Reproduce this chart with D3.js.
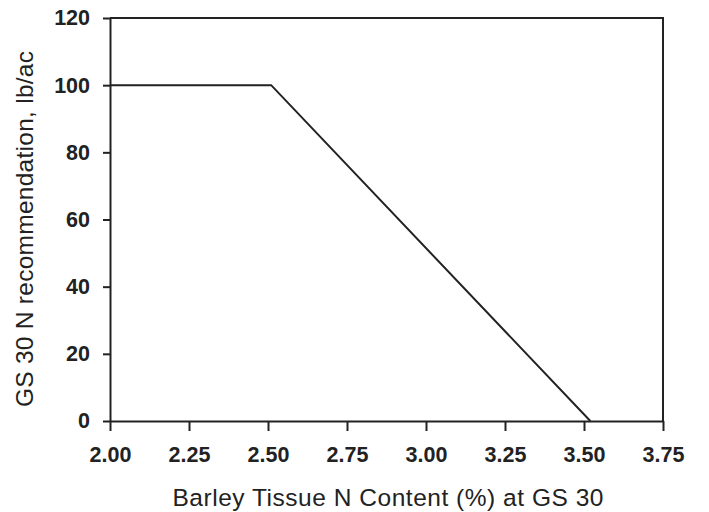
<!DOCTYPE html>
<html lang="en">
<head>
<meta charset="UTF-8">
<title>GS 30 N recommendation</title>
<script src="https://cdn.jsdelivr.net/npm/d3@7"></script>
<style>
  body { margin: 0; background: #fff; }
</style>
</head>
<body>
<div id="chart"></div>
<script>
// data
var tissueN = [2.00, 2.51, 3.52];
var nRate = [100, 100, 0];
var xTicks = [2.00, 2.25, 2.50, 2.75, 3.00, 3.25, 3.50, 3.75];
var yTicks = [0, 20, 40, 60, 80, 100, 120];

var W = 709, H = 512;
var margin = { top: 18, right: 46, bottom: 91, left: 110 },
    width = W - margin.left - margin.right,
    height = H - margin.top - margin.bottom;

var svg = d3.select("#chart").append("svg")
    .attr("width", W).attr("height", H);
var g = svg.append("g")
    .attr("transform", "translate(" + margin.left + "," + margin.top + ")");

var x = d3.scaleLinear().domain([2.0, 3.75]).range([0, width]);
var y = d3.scaleLinear().domain([0, 120]).range([height, 0]);

// frame (top + right)
g.append("path")
    .attr("d", "M0,0H" + width + "V" + height)
    .attr("fill", "none").attr("stroke", "#222").attr("stroke-width", 2);

var xAxis = g.append("g")
    .attr("transform", "translate(0," + height + ")")
    .call(d3.axisBottom(x).tickValues(xTicks).tickFormat(d3.format(".2f")).tickSizeInner(10).tickSizeOuter(0).tickPadding(16));
var yAxis = g.append("g")
    .call(d3.axisLeft(y).tickValues(yTicks).tickSizeInner(7).tickSizeOuter(0).tickPadding(13));

[xAxis, yAxis].forEach(function (a) {
    a.select(".domain").attr("stroke", "#222").attr("stroke-width", 2);
    a.selectAll(".tick line").attr("stroke", "#222").attr("stroke-width", 2);
    a.selectAll(".tick text")
        .attr("fill", "#222")
        .style("font-family", "'Liberation Sans', Arial, sans-serif")
        .style("font-size", "21.5px")
        .style("font-weight", "bold");
});

var pts = tissueN.map(function (d, i) { return [d, nRate[i]]; });
g.append("path")
    .datum(pts)
    .attr("fill", "none")
    .attr("stroke", "#222")
    .attr("stroke-width", 2)
    .attr("d", d3.line().x(function (d) { return x(d[0]); }).y(function (d) { return y(d[1]); }));

// axis titles
svg.append("text")
    .attr("x", 388)
    .attr("y", 506)
    .attr("text-anchor", "middle")
    .attr("fill", "#222")
    .attr("textLength", 431)
    .style("font-family", "'Liberation Sans', Arial, sans-serif")
    .style("font-size", "24.5px")
    .text("Barley Tissue N Content (%) at GS 30");

svg.append("text")
    .attr("transform", "translate(33,229)rotate(-90)")
    .attr("text-anchor", "middle")
    .attr("fill", "#222")
    .attr("textLength", 356)
    .style("font-family", "'Liberation Sans', Arial, sans-serif")
    .style("font-size", "24.5px")
    .text("GS 30 N recommendation, lb/ac");
</script>
</body>
</html>
